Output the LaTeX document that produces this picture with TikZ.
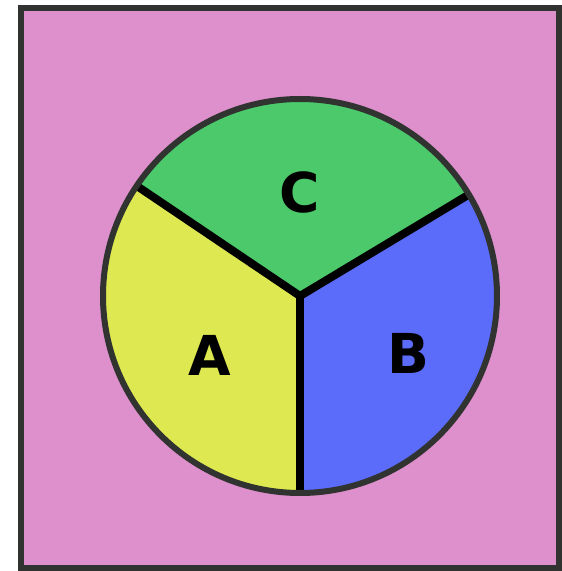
\documentclass[tikz,border=0pt]{standalone}
\usepackage{fontspec}
\setsansfont{DejaVu Sans}
\usetikzlibrary{calc}
\definecolor{bgpink}{HTML}{DD90CC}
\definecolor{secyellow}{HTML}{DEE850}
\definecolor{secgreen}{HTML}{4CC96B}
\definecolor{secblue}{HTML}{5B6BFA}
\definecolor{rimgray}{HTML}{303330}
\tikzstyle{label} = [font=\sffamily\bfseries\fontsize{55}{55}\selectfont, text=black, inner sep=0pt]
\tikzstyle{divider} = [draw=black, line width=8pt]
\tikzstyle{rim} = [draw=rimgray, line width=6pt]

\begin{document}
\begin{tikzpicture}[x=1pt, y=1pt]
    \useasboundingbox (0,0) rectangle (562,571);
    % Background square
    \draw [rim, fill=bgpink] (20.5,3) rectangle (559,562.5);
    % Sectors
    \coordinate (ctr) at (300,275);
    \fill [secgreen] (ctr) -- ($(ctr)+(31:197)$) arc (31:146:197) -- cycle;
    \fill [secyellow] (ctr) -- ($(ctr)+(146:197)$) arc (146:270:197) -- cycle;
    \fill [secblue] (ctr) -- ($(ctr)+(270:197)$) arc (270:391:197) -- cycle;
    % Dividers
    \coordinate (endc) at ($(ctr)+(31:197)$);
    \coordinate (enda) at ($(ctr)+(146:197)$);
    \coordinate (endb) at ($(ctr)+(270:197)$);
    \draw [divider] (enda) -- (ctr) -- (endc);
    \draw [divider] (ctr) -- (endb);
    \draw [rim] (ctr) circle (197);
    % Labels
    \node [label] (A) at (210,216) {A};
    \node [label] (B) at (408,218) {B};
    \node [label] (C) at (300,379) {C};
\end{tikzpicture}
\end{document}
